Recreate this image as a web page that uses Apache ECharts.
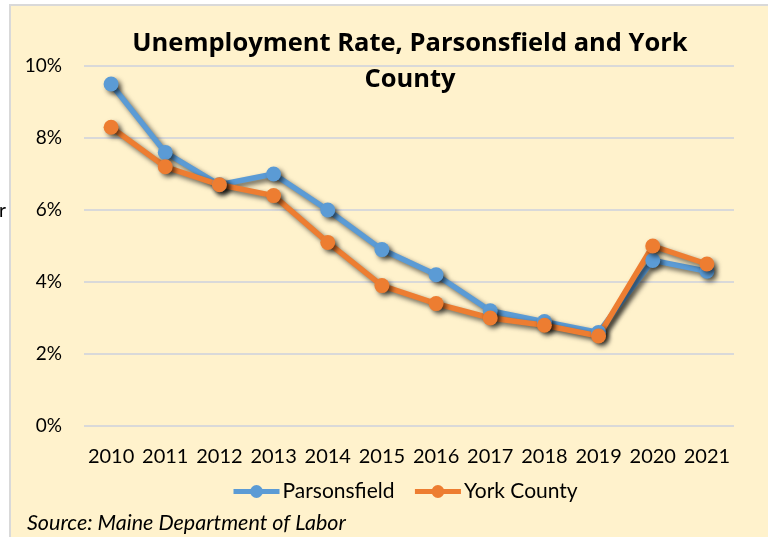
<!DOCTYPE html>
<html>
<head>
<meta charset="utf-8">
<script src="https://cdn.jsdelivr.net/npm/echarts@6/dist/echarts.min.js"></script>
<style>
  html, body { margin: 0; padding: 0; background: #ffffff; }
  #wrap { position: relative; width: 768px; height: 537px; overflow: hidden; }
  #bg { position: absolute; left: 9px; top: 4px; width: 770px; height: 540px; background: #FFF2CC; border: 2px solid #D9D9D9; box-sizing: border-box; }
  #chart { position: absolute; left: 0; top: 0; width: 768px; height: 537px; }
</style>
</head>
<body>
<div id="wrap">
  <div id="bg"></div>
  <div id="chart"></div>
</div>
<script>
const years = ['2010','2011','2012','2013','2014','2015','2016','2017','2018','2019','2020','2021'];
const parsonsfield = [9.5, 7.6, 6.7, 7.0, 6.0, 4.9, 4.2, 3.2, 2.9, 2.6, 4.6, 4.3];
const yorkCounty = [8.3, 7.2, 6.7, 6.4, 5.1, 3.9, 3.4, 3.0, 2.8, 2.5, 5.0, 4.5];
const titleText = 'Unemployment Rate, Parsonsfield and York\nCounty';
const sourceText = 'Source: Maine Department of Labor';

const FONT = 'Lato, "Open Sans", sans-serif';
const chart = echarts.init(document.getElementById('chart'), null, { renderer: 'canvas' });

function lineSeries(name, data, color) {
  return {
    name: name,
    type: 'line',
    data: data,
    symbol: 'circle',
    symbolSize: 15,
    lineStyle: { width: 5.5, color: color, shadowBlur: 5, shadowColor: 'rgba(0,0,0,0.6)', shadowOffsetX: 3, shadowOffsetY: 3 },
    itemStyle: { color: color, shadowBlur: 5, shadowColor: 'rgba(0,0,0,0.6)', shadowOffsetX: 3, shadowOffsetY: 3 },
    emphasis: { disabled: true },
    animation: false
  };
}

chart.setOption({
  backgroundColor: 'transparent',
  animation: false,
  title: {
    text: titleText,
    left: 405,
    textAlign: 'center',
    top: 21,
    textStyle: { fontFamily: '"Open Sans", Lato, sans-serif', fontSize: 25.5, fontWeight: 'bold', color: '#000', lineHeight: 36 }
  },
  legend: {
    data: ['Parsonsfield', 'York County'],
    top: 476,
    left: 226,
    itemWidth: 46,
    itemHeight: 16,
    itemGap: 18,
    lineStyle: { width: 5 },
    textStyle: { fontFamily: FONT, fontSize: 21, color: '#000', padding: [0, 0, 0, -2] }
  },
  grid: { left: 84, right: 34, top: 66, bottom: 111, containLabel: false },
  xAxis: {
    type: 'category',
    data: years,
    boundaryGap: true,
    axisLine: { show: false },
    axisTick: { show: false },
    axisLabel: { fontFamily: FONT, fontSize: 20, color: '#000', margin: 21, interval: 0, hideOverlap: false }
  },
  yAxis: {
    type: 'value',
    min: 0,
    max: 10,
    interval: 2,
    axisLine: { show: false },
    axisTick: { show: false },
    axisLabel: { fontFamily: FONT, fontSize: 19, color: '#000', margin: 22, formatter: v => v + '%' },
    splitLine: { lineStyle: { color: '#D9D9D9', width: 2 } }
  },
  graphic: [
    { type: 'text', left: 27, top: 512, style: { text: sourceText, fontFamily: FONT, fontSize: 21.5, fontStyle: 'italic', fill: '#000' } },
    { type: 'text', left: -1, top: 201, style: { text: 'r', fontFamily: FONT, fontSize: 19, fill: '#000' } }
  ],
  series: [
    lineSeries('Parsonsfield', parsonsfield, '#5B9BD5'),
    lineSeries('York County', yorkCounty, '#ED7D31')
  ]
});
</script>
</body>
</html>
